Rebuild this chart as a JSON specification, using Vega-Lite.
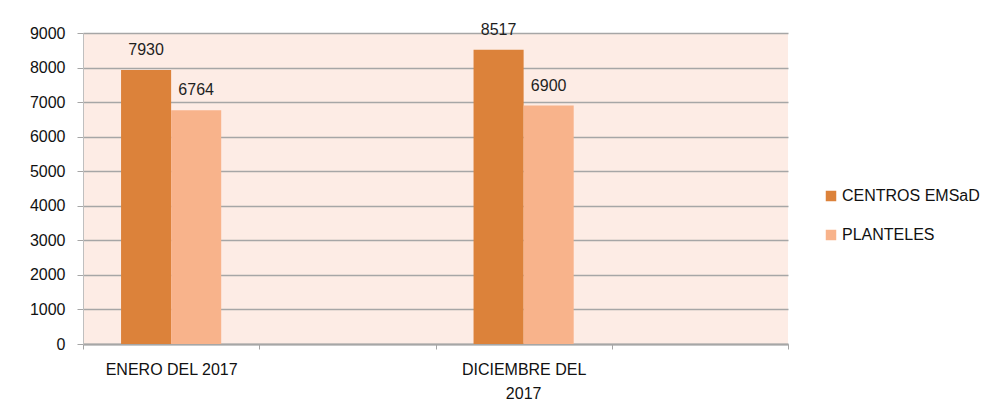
{
  "$schema": "https://vega.github.io/schema/vega-lite/v6.json",
  "autosize": {"type": "none"},
  "width": 705,
  "height": 311,
  "padding": {"left": 83, "top": 33, "right": 204, "bottom": 72},
  "background": "#ffffff",
  "data": {
    "values": [
      {"periodo": "ENERO DEL 2017", "serie": "CENTROS EMSaD", "valor": 7930},
      {"periodo": "ENERO DEL 2017", "serie": "PLANTELES", "valor": 6764},
      {"periodo": "DICIEMBRE DEL 2017", "serie": "CENTROS EMSaD", "valor": 8517},
      {"periodo": "DICIEMBRE DEL 2017", "serie": "PLANTELES", "valor": 6900}
    ]
  },
  "encoding": {
    "xOffset": {
      "field": "serie",
      "type": "nominal",
      "scale": {"paddingInner": 0, "paddingOuter": 0.76}
    },
    "y": {
      "field": "valor",
      "type": "quantitative",
      "scale": {"domain": [0, 9000], "nice": false},
      "axis": {
        "title": null,
        "values": [0, 1000, 2000, 3000, 4000, 5000, 6000, 7000, 8000, 9000],
        "format": "d",
        "grid": true,
        "gridColor": "#a6a6a6",
        "gridWidth": 1.5,
        "domain": true,
        "domainColor": "#bfbfbf",
        "domainWidth": 1,
        "tickColor": "#a6a6a6",
        "tickSize": 6,
        "labelPadding": 12
      }
    }
  },
  "layer": [
    {
      "mark": {"type": "bar"},
      "encoding": {
        "x": {
          "field": "periodo",
          "type": "nominal",
          "scale": {"domain": ["ENERO DEL 2017", "B1", "DICIEMBRE DEL 2017", "B2"], "paddingInner": 0, "paddingOuter": 0},
          "axis": {
            "title": null,
            "orient": "bottom",
            "labelAngle": 0,
            "labelExpr": "datum.value == 'DICIEMBRE DEL 2017' ? 'DICIEMBRE DEL' : (datum.value == 'B1' || datum.value == 'B2' ? '' : datum.value)",
            "tickBand": "extent",
            "tickSize": 5,
            "tickColor": "#a6a6a6",
            "domainColor": "#a6a6a6",
            "domainWidth": 2,
            "labelPadding": 12,
            "grid": false
          }
        },
        "color": {
          "field": "serie",
          "type": "nominal",
          "scale": {"domain": ["CENTROS EMSaD", "PLANTELES"], "range": ["#dc823a", "#f8b38b"]},
          "legend": {
            "title": null,
            "orient": "none",
            "legendX": 740,
            "legendY": 155,
            "symbolType": "square",
            "symbolSize": 110,
            "symbolStrokeWidth": 0,
            "rowPadding": 23,
            "labelOffset": 3,
            "labelFontSize": 16,
            "labelColor": "#111111",
            "labelFont": "Liberation Sans"
          }
        }
      }
    },
    {
      "mark": {"type": "text", "baseline": "bottom", "dy": -12, "fontSize": 16, "color": "#1f1f1f", "font": "Liberation Sans"},
      "encoding": {
        "x": {
          "field": "periodo",
          "type": "nominal",
          "scale": {"domain": ["ENERO DEL 2017", "B1", "DICIEMBRE DEL 2017", "B2"], "paddingInner": 0, "paddingOuter": 0},
          "axis": {
            "title": null,
            "orient": "bottom",
            "offset": 37,
            "labelAngle": 0,
            "labelExpr": "datum.value == 'DICIEMBRE DEL 2017' ? '2017' : ''",
            "domain": false,
            "ticks": false,
            "grid": false,
            "labelPadding": 4
          }
        },
        "text": {"field": "valor", "type": "quantitative", "format": "d"}
      }
    }
  ],
  "resolve": {"axis": {"x": "independent"}},
  "config": {
    "view": {"fill": "#fdece5", "stroke": null},
    "axis": {
      "labelFont": "Liberation Sans",
      "labelFontSize": 16,
      "labelColor": "#111111"
    }
  }
}
